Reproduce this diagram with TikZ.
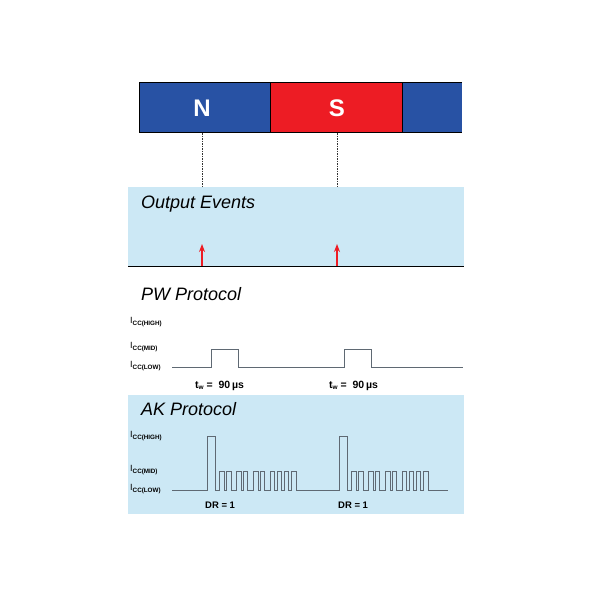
\documentclass[tikz,border=0pt]{standalone}
\usepackage{fontspec}
\setmainfont{Liberation Sans}
\usetikzlibrary{arrows.meta}

\definecolor{poleblue}{RGB}{40,82,164}
\definecolor{polered}{RGB}{237,28,36}
\definecolor{panel}{RGB}{204,232,245}
\definecolor{trace}{RGB}{95,105,115}

% supply current level label
\newcommand\icur[1]{I\raisebox{-1.6pt}{\fontsize{6.3}{6.3}\selectfont\bfseries CC(#1)}}
\newcommand\twidth{t\raisebox{-1.6pt}{\fontsize{6.5}{6.5}\selectfont w} =\ \ 90\,µs}

\begin{document}
\begin{tikzpicture}[x=1pt, y=-1pt,
    title/.style = {anchor=base west, inner sep=0, font=\fontsize{18}{18}\selectfont\itshape},
    level/.style = {anchor=west, inner sep=0, font=\fontsize{9}{9}\selectfont},
    tag/.style = {anchor=base west, inner sep=0, font=\fontsize{10.5}{10.5}\selectfont\bfseries},
    pole/.style = {text=white, inner sep=0, font=\fontsize{24}{24}\selectfont\bfseries},
    sig/.style = {draw=trace, line width=0.7pt},
    event/.style = {draw=polered, line width=1.8pt, -{Stealth[length=8pt,width=6pt]}}]
    \useasboundingbox (0,0) rectangle (600,600);

    % magnet
    \fill[poleblue] (139,82) rectangle (270,132);
    \fill[polered] (270,82) rectangle (402,132);
    \fill[poleblue] (402,82) rectangle (462,132);
    \draw[line width=1pt] (462,82) -- (139,82) -- (139,132) -- (462,132)
        (270,82) -- (270,132) (402,82) -- (402,132);
    \node[pole] (N) at (202,108) {N};
    \node[pole] (S) at (337,108) {S};

    % panels
    \fill[panel] (128,187) rectangle (464,267);
    \fill[panel] (128,395) rectangle (464,514);
    \draw[line width=1.2pt] (128,266.5) -- (464,266.5);

    \coordinate (mN) at (202,133);
    \coordinate (mS) at (337,133);
    \coordinate (eN) at (202,187);
    \coordinate (eS) at (337,187);
    \draw[dash pattern=on 1.5pt off 1pt, line width=0.7pt, black!80] (mN) -- (eN) (mS) -- (eS);

    \node[title] (out) at (141,208) {Output Events};
    \coordinate (aN) at (202,266);
    \coordinate (aS) at (337,266);
    \coordinate (bN) at (202,244);
    \coordinate (bS) at (337,244);
    \draw[event] (aN) -- (bN);
    \draw[event] (aS) -- (bS);

    % PW protocol
    \node[title] (pw) at (141,300) {PW Protocol};
    \node[level] (pwhi) at (130,322) {\icur{HIGH}};
    \node[level] (pwmid) at (130,347) {\icur{MID}};
    \node[level] (pwlow) at (130,366) {\icur{LOW}};
    \draw[sig] (172,367) -- (211,367) -- (211,349) -- (238.5,349) -- (238.5,367)
        -- (344,367) -- (344,349) -- (371,349) -- (371,367) -- (463,367);
    \node[tag] (tw1) at (195,388) {\twidth};
    \node[tag] (tw2) at (329,388) {\twidth};

    % AK protocol
    \node[title] (ak) at (141,415) {AK Protocol};
    \node[level] (akhi) at (130,436) {\icur{HIGH}};
    \node[level] (akmid) at (130,470) {\icur{MID}};
    \node[level] (aklow) at (130,489) {\icur{LOW}};
    \draw[sig] (172,490)
        \foreach \s in {207,339} {
            -- (\s,490) -- (\s,436) -- (\s+8,436) -- (\s+8,490)
            \foreach \a/\b in {12/17,19/24,29/34,36/40,46/51,53/57,63/67,70/74,77/81,84/89} {
                -- (\s+\a,490) -- (\s+\a,471) -- (\s+\b,471) -- (\s+\b,490)
            }
        } -- (448,490);
    \node[tag, font=\fontsize{9.5}{9.5}\selectfont\bfseries] (dr1) at (205,508) {DR = 1};
    \node[tag, font=\fontsize{9.5}{9.5}\selectfont\bfseries] (dr2) at (338,508) {DR = 1};
\end{tikzpicture}
\end{document}
